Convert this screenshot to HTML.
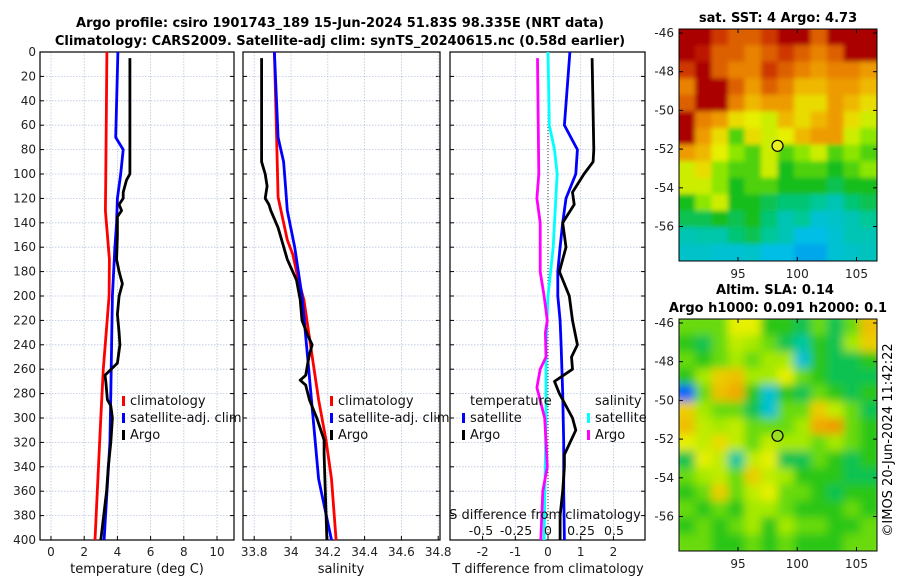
<!DOCTYPE html>
<html><head><meta charset="utf-8"><style>
body{margin:0;background:#fff;}
svg{display:block;font-family:"DejaVu Sans","Liberation Sans",sans-serif;}
</style></head><body>
<svg id="fig" width="900" height="580" viewBox="0 0 900 580" xmlns="http://www.w3.org/2000/svg">
<text x="340" y="27" text-anchor="middle" font-size="13" font-weight="bold">Argo profile: csiro 1901743_189 15-Jun-2024 51.83S 98.335E (NRT data)</text>
<text x="340" y="45" text-anchor="middle" font-size="13" font-weight="bold">Climatology: CARS2009. Satellite-adj clim: synTS_20240615.nc (0.58d earlier)</text>
<text x="778" y="22" text-anchor="middle" font-size="13" font-weight="bold">sat. SST: 4 Argo: 4.73</text>
<text x="775" y="294" text-anchor="middle" font-size="13" font-weight="bold">Altim. SLA: 0.14</text>
<text x="778" y="312" text-anchor="middle" font-size="13" font-weight="bold">Argo h1000: 0.091 h2000: 0.1</text>
<text transform="translate(892,440) rotate(-90)" text-anchor="middle" font-size="13">©IMOS 20-Jun-2024 11:42:22</text>
<g id="layer"></g>
</svg>
<script>
// ---- data ----
const depthTicks=[0,20,40,60,80,100,120,140,160,180,200,220,240,260,280,300,320,340,360,380,400];
const tTicks=[0,2,4,6,8,10];
const sTicks=[33.8,34,34.2,34.4,34.6,34.8];
const sTickLabels=["33.8","34","34.2","34.4","34.6","34.8"];
const dTicks=[-2,-1,0,1,2];
const sdTickLabels=["-0.5","-0.25","0","0.25","0.5"];

const tClimDepth=[0,100,130,150,170,200,260,300,400];
const tClimVal=[3.37,3.3,3.28,3.4,3.52,3.5,3.15,3.0,2.65];
const tSatDepth=[0,70,80,100,120,140,160,200,240,280,320,400];
const tSatVal=[4.03,3.9,4.35,4.2,4.0,3.95,3.85,3.7,3.65,3.6,3.55,3.2];
const tArgoDepth=[5,100,105,115,120,125,130,135,150,170,180,190,200,215,230,240,255,265,270,285,290,300,320,340,360,400];
const tArgoVal=[4.75,4.75,4.55,4.35,4.35,4.1,4.25,4.0,4.0,3.95,4.1,4.3,4.1,4.0,4.1,4.15,4.0,3.25,3.3,3.4,3.6,3.7,3.6,3.45,3.35,3.0];

const sClimDepth=[0,60,119,154,166,187,203,244,285,318,350,400];
const sClimVal=[33.91,33.92,33.93,33.98,34.01,34.04,34.07,34.11,34.15,34.19,34.22,34.245];
const sSatDepth=[0,70,90,110,130,160,200,250,300,350,400];
const sSatVal=[33.91,33.93,33.96,33.97,33.98,34.02,34.06,34.09,34.12,34.15,34.22];
const sArgoDepth=[5,90,100,110,120,125,130,144,170,187,203,220,232,240,248,256,265,269,273,285,300,318,330,400];
const sArgoVal=[33.84,33.84,33.86,33.87,33.86,33.88,33.89,33.93,33.98,34.03,34.05,34.06,34.09,34.115,34.1,34.09,34.08,34.05,34.08,34.1,34.14,34.18,34.18,34.195];

const dTSatDepth=[0,60,80,100,120,140,160,180,200,220,240,280,320,360,400];
const dTSatVal=[0.67,0.5,0.9,0.85,0.55,0.45,0.37,0.3,0.3,0.37,0.4,0.45,0.48,0.48,0.5];
const dTArgoDepth=[5,80,90,100,115,125,140,160,180,200,220,240,250,260,270,280,300,310,330,340,360,380,400];
const dTArgoVal=[1.35,1.4,1.38,1.1,0.75,0.8,0.45,0.55,0.35,0.65,0.75,0.9,0.72,0.75,0.2,0.35,0.75,0.85,0.5,0.5,0.45,0.37,0.37];
const dSSatDepth=[0,60,80,100,120,160,200,240,300,400];
const dSSatVal=[0.0,0.01,0.05,0.07,0.06,0.04,0.0,-0.015,-0.015,-0.03];
const dSArgoDepth=[5,100,120,140,180,200,220,230,250,260,275,300,340,360,400];
const dSArgoVal=[-0.08,-0.07,-0.085,-0.06,-0.06,-0.03,-0.005,-0.02,-0.015,-0.06,-0.085,-0.025,-0.005,-0.04,-0.055];

const sstGrid=[
[1,1,.9,.85,.85,.9,1,1,.85,1,1,1],
[1,.95,.85,.85,.8,.85,.9,.85,.8,.85,1,1],
[.9,1,.85,.8,.8,.9,.85,.8,.75,.8,.8,.75],
[.8,1,1,.85,.75,.85,.8,.7,.7,.75,.75,.7],
[.85,1,1,.8,.7,.75,.75,.65,.65,.75,.7,.65],
[1,.8,.75,.65,.62,.6,.7,.65,.7,.75,.65,.6],
[1,.75,.65,.5,.65,.6,.62,.7,.75,.75,.6,.55],
[.75,.7,.62,.55,.5,.6,.5,.55,.6,.5,.55,.5],
[.6,.65,.55,.5,.5,.6,.45,.5,.5,.45,.5,.55],
[.6,.6,.55,.45,.5,.5,.45,.45,.45,.42,.45,.45],
[.45,.55,.6,.45,.45,.42,.4,.4,.38,.35,.4,.42],
[.42,.42,.45,.42,.45,.4,.35,.38,.32,.33,.35,.38],
[.35,.36,.36,.4,.42,.38,.35,.3,.3,.32,.35,.35],
[.33,.33,.32,.32,.33,.3,.3,.28,.28,.32,.33,.34]];
const slaGrid=[
[.55,.55,.55,.65,.65,.5,.5,.45,.55,.45,.55,.72],
[.5,.45,.55,.62,.6,.55,.45,.4,.5,.45,.6,.7],
[.55,.5,.55,.6,.55,.6,.6,.35,.5,.45,.45,.5],
[.5,.6,.7,.72,.6,.6,.65,.55,.5,.45,.45,.45],
[.25,.55,.72,.75,.5,.35,.5,.45,.55,.5,.45,.5],
[.7,.6,.55,.55,.45,.35,.55,.55,.7,.62,.55,.45],
[.72,.62,.6,.62,.55,.55,.55,.6,.75,.78,.55,.5],
[.65,.62,.68,.62,.55,.62,.6,.6,.55,.6,.55,.5],
[.45,.65,.62,.4,.62,.65,.45,.45,.55,.5,.45,.5],
[.55,.6,.62,.55,.7,.62,.6,.5,.5,.5,.45,.45],
[.5,.55,.7,.55,.62,.65,.55,.55,.5,.45,.5,.5],
[.55,.5,.55,.5,.6,.6,.55,.5,.5,.5,.55,.5],
[.5,.55,.5,.55,.6,.5,.6,.55,.55,.5,.5,.55],
[.55,.55,.5,.5,.55,.5,.55,.5,.5,.5,.55,.55]];
const latTicks=[-46,-48,-50,-52,-54,-56];
const lonTicks=[95,100,105];
const argoLon=98.335, argoLat=-51.83;

// ---- helpers ----
const NS="http://www.w3.org/2000/svg";
const layer=document.getElementById('layer');
function mk(tag,attrs,parent){const e=document.createElementNS(NS,tag);for(const k in attrs)e.setAttribute(k,attrs[k]);(parent||layer).appendChild(e);return e;}
const top0=52,bot0=540;
const yD=d=>top0+(bot0-top0)*d/400;
const P1={l:40,r:234}, P2={l:243,r:440}, P3={l:450,r:645};
const xT=t=>51+16.6*t;
const xS=s=>291+184*(s-34);
const xdT=v=>548+32.7*v;
const xdS=v=>548+130.8*v;

function frame(P,name,xt,xfn,labels){
  const g=mk('g',{});
  
  
  depthTicks.forEach(d=>{
    mk('line',{x1:P.l,x2:P.r,y1:yD(d),y2:yD(d),stroke:'#b8c4e0','stroke-width':0.8,'stroke-dasharray':'1.5,1.5'},g);
    mk('line',{x1:P.l,x2:P.l+4,y1:yD(d),y2:yD(d),stroke:'#000'},g);
    mk('line',{x1:P.r,x2:P.r-4,y1:yD(d),y2:yD(d),stroke:'#000'},g);
  });
  xt.forEach((v,i)=>{
    const x=xfn(v);
    mk('line',{x1:x,x2:x,y1:top0,y2:bot0,stroke:'#b8c4e0','stroke-width':0.8,'stroke-dasharray':'1.5,1.5'},g);
    mk('line',{x1:x,x2:x,y1:bot0,y2:bot0-4,stroke:'#000'},g);
    const t=mk('text',{x:x,y:556,'text-anchor':'middle','font-size':12,fill:'#222'},g);
    t.textContent=labels?labels[i]:String(v);
  });
  mk('rect',{x:P.l,y:top0,width:P.r-P.l,height:bot0-top0,fill:'none',stroke:'#000','stroke-width':1.2},g);
  return g;
}
function line(ds,vs,xfn,color,name,w){
  const pts=ds.map((d,i)=>xfn(vs[i]).toFixed(1)+','+yD(d).toFixed(1)).join(' ');
  const p=mk('polyline',{points:pts,fill:'none',stroke:color,'stroke-width':w||2.8,'stroke-linejoin':'round'});
  
  
}
function txt(x,y,s,opts,name){const t=mk('text',Object.assign({x:x,y:y,'font-size':12.5,fill:'#111'},opts||{}));t.textContent=s;
  
  
  return t;}

depthTicks.forEach(d=>{txt(36,yD(d)+4,String(d),{'text-anchor':'end','font-size':12,fill:'#222'},'depth-tick-label');});

frame(P1,'temperature-panel',tTicks,xT);
line(tClimDepth,tClimVal,xT,'#ff0000','temp-climatology-line');
line(tSatDepth,tSatVal,xT,'#0000ff','temp-satellite-line');
line(tArgoDepth,tArgoVal,xT,'#000','temp-argo-line');
txt(137,573,'temperature (deg C)',{'text-anchor':'middle','font-size':13},'temperature-axis-title');

frame(P2,'salinity-panel',sTicks,xS,sTickLabels);
line(sClimDepth,sClimVal,xS,'#ff0000','sal-climatology-line');
line(sSatDepth,sSatVal,xS,'#0000ff','sal-satellite-line');
line(sArgoDepth,sArgoVal,xS,'#000','sal-argo-line');
txt(341,573,'salinity',{'text-anchor':'middle','font-size':13},'salinity-axis-title');

frame(P3,'difference-panel',dTicks,xdT);
mk('line',{x1:548,x2:548,y1:top0,y2:bot0,stroke:'#333','stroke-width':1,'stroke-dasharray':'1,2'});
line(dSSatDepth,dSSatVal,xdS,'#00ffff','sdiff-satellite-line');
line(dSArgoDepth,dSArgoVal,xdS,'#ff00ff','sdiff-argo-line');
line(dTSatDepth,dTSatVal,xdT,'#0000ff','tdiff-satellite-line');
line(dTArgoDepth,dTArgoVal,xdT,'#000','tdiff-argo-line');
txt(548,573,'T difference from climatology',{'text-anchor':'middle','font-size':13},'tdiff-axis-title');
txt(545,519,'S difference from climatology',{'text-anchor':'middle','font-size':13},'sdiff-axis-title');
const sdPos=[481,516,548,581,614];
sdTickLabels.forEach((s,i)=>txt(sdPos[i],535,s,{'text-anchor':'middle','font-size':12.5},'sdiff-tick-label'));

function leg(x,y,color,label,name){
  const r=mk('rect',{x:x,y:y-9,width:3,height:10,fill:color});
  
  
  txt(x+8,y,label,{'font-size':13},name);
}
leg(122,405,'#ff0000','climatology','legend-climatology');
leg(122,422,'#0000ff','satellite-adj. clim','legend-satellite');
leg(122,439,'#000','Argo','legend-argo');
leg(330,405,'#ff0000','climatology','legend2-climatology');
leg(330,422,'#0000ff','satellite-adj. clim','legend2-satellite');
leg(330,439,'#000','Argo','legend2-argo');
txt(470,405,'temperature',{'font-size':13},'legend-temperature-header');
leg(462,422,'#0000ff','satellite','legend-tdiff-satellite');
leg(462,439,'#000','Argo','legend-tdiff-argo');
txt(595,405,'salinity',{'font-size':13},'legend-salinity-header');
leg(587,422,'#00ffff','satellite','legend-sdiff-satellite');
leg(587,439,'#ff00ff','Argo','legend-sdiff-argo');

const cmapStops=[0,0.2,0.3,0.38,0.45,0.55,0.62,0.72,0.82,0.92,1.0];
const cmapColors=[[0,0,170],[0,80,255],[0,190,230],[0,200,150],[20,190,30],[140,230,0],[230,240,0],[240,170,0],[230,120,0],[200,40,0],[170,0,0]];
function cmap(v){
  v=Math.max(0,Math.min(1,v));
  for(let i=1;i<cmapStops.length;i++){
    if(v<=cmapStops[i]){const f=(v-cmapStops[i-1])/(cmapStops[i]-cmapStops[i-1]);
      const a=cmapColors[i-1],b=cmapColors[i];
      return `rgb(${Math.round(a[0]+f*(b[0]-a[0]))},${Math.round(a[1]+f*(b[1]-a[1]))},${Math.round(a[2]+f*(b[2]-a[2]))})`;}
  }
  return 'rgb(170,0,0)';
}
const mapL=679,mapR=877;
const lonX=lon=>738+(lon-95)*11.85;
function drawMap(grid,top,name,blur,offset){
  const bot=top+232;
  const latY=lat=>top+4+(-46-lat)*19.35;
  const g=mk('g',{});
  
  
  const cid='clip'+top;
  const cp=mk('clipPath',{id:cid},g);mk('rect',{x:mapL,y:top,width:mapR-mapL,height:bot-top},cp);
  const fid='f'+top;
  const f=mk('filter',{id:fid,x:'-10%',y:'-10%',width:'120%',height:'120%'},g);mk('feGaussianBlur',{stdDeviation:blur},f);
  const cg=mk('g',{'clip-path':`url(#${cid})`},g);
  const ig=mk('g',{filter:`url(#${fid})`},cg);
  const rows=grid.length, cols=grid[0].length;
  const cw=(mapR-mapL)/cols, ch=(bot-top)/rows;
  grid.forEach((row,i)=>row.forEach((v,j)=>{
    const c=mk('rect',{x:mapL+j*cw-0.5-(j==0?6:0),y:top+i*ch-0.5-(i==0?6:0),width:cw+1+(j==0||j==cols-1?6:0),height:ch+1+(i==0||i==rows-1?6:0),fill:cmap(v+offset)},ig);
    
    
  }));
  mk('rect',{x:mapL,y:top,width:mapR-mapL,height:bot-top,fill:'none',stroke:'#000','stroke-width':1},g);
  latTicks.forEach(l=>{const y=latY(l);
    mk('line',{x1:mapL,x2:mapL+4,y1:y,y2:y,stroke:'#000'},g);
    mk('line',{x1:mapR,x2:mapR-4,y1:y,y2:y,stroke:'#000'},g);
    txt(674,y+4,String(l),{'text-anchor':'end','font-size':12,fill:'#222'},'lat-tick-label');});
  lonTicks.forEach(l=>{const x=lonX(l);
    mk('line',{x1:x,x2:x,y1:bot,y2:bot-4,stroke:'#000'},g);
    mk('line',{x1:x,x2:x,y1:top,y2:top+4,stroke:'#000'},g);
    txt(x,bot+17,String(l),{'text-anchor':'middle','font-size':12,fill:'#222'},'lon-tick-label');});
  const m=mk('circle',{cx:lonX(argoLon),cy:latY(argoLat),r:5.5,fill:blur>3?'#9be020':'#e8ee20',stroke:'#000','stroke-width':1.2},g);
  
  
}
drawMap(sstGrid,29,'sst-map',2.5,0);
drawMap(slaGrid,319,'sla-map',4.5,-0.03);
</script>
</body></html>
